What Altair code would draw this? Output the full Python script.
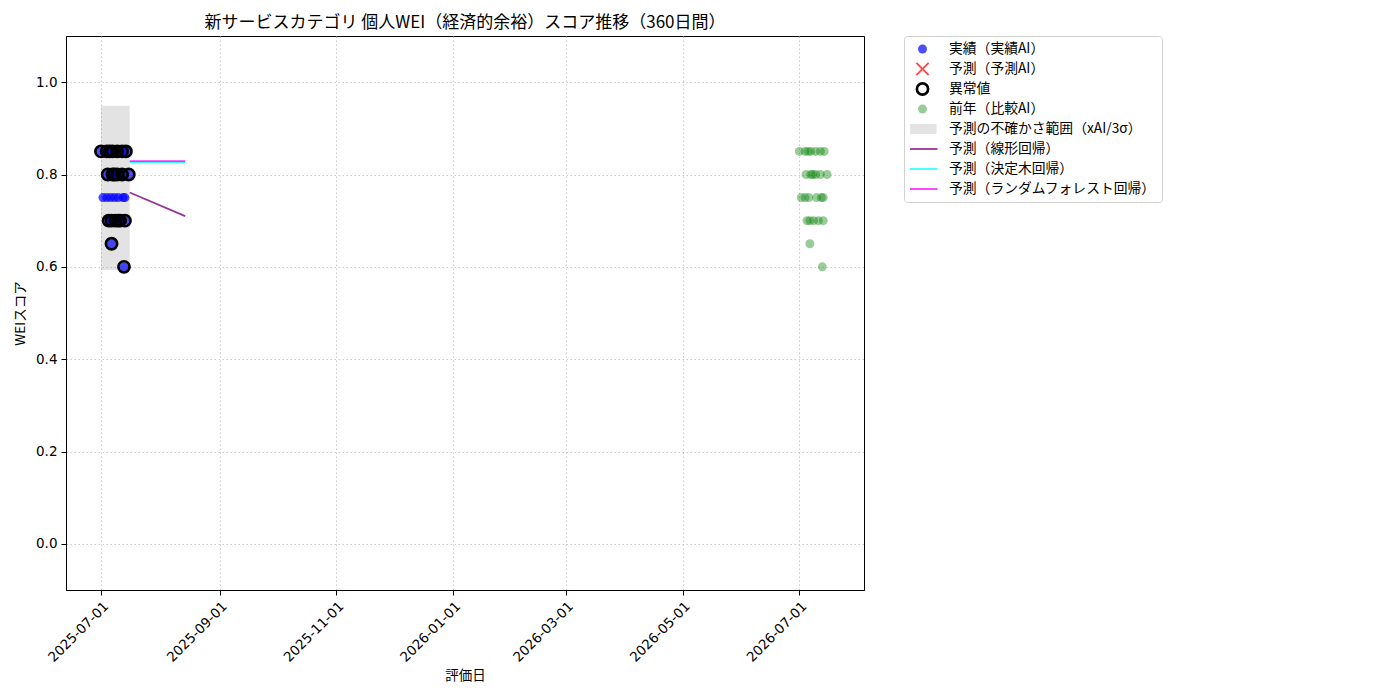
import altair as alt
import pandas as pd

# ---------------- data ----------------
series_labels = [
    "実績（実績AI）",
    "予測（予測AI）",
    "異常値",
    "前年（比較AI）",
    "予測の不確かさ範囲（xAI/3σ）",
    "予測（線形回帰）",
    "予測（決定木回帰）",
    "予測（ランダムフォレスト回帰）",
]

actual_dates = [
    "2025-07-01T00:00:00Z", "2025-07-02T00:00:00Z", "2025-07-04T00:00:00Z", "2025-07-04T00:00:00Z",
    "2025-07-04T12:00:00Z", "2025-07-05T00:00:00Z", "2025-07-05T12:00:00Z", "2025-07-06T00:00:00Z",
    "2025-07-06T12:00:00Z", "2025-07-06T12:00:00Z", "2025-07-07T00:00:00Z", "2025-07-07T00:00:00Z",
    "2025-07-08T00:00:00Z", "2025-07-08T00:00:00Z", "2025-07-08T12:00:00Z", "2025-07-09T12:00:00Z",
    "2025-07-09T12:00:00Z", "2025-07-10T00:00:00Z", "2025-07-10T00:00:00Z", "2025-07-11T00:00:00Z",
    "2025-07-12T00:00:00Z", "2025-07-12T00:00:00Z", "2025-07-12T12:00:00Z", "2025-07-13T00:00:00Z",
    "2025-07-13T12:00:00Z", "2025-07-13T12:00:00Z", "2025-07-14T00:00:00Z", "2025-07-15T12:00:00Z",
]
actual_values = [
    0.85, 0.75, 0.85, 0.75,
    0.80, 0.70, 0.85, 0.75,
    0.70, 0.65, 0.85, 0.80,
    0.80, 0.75, 0.70, 0.85,
    0.80, 0.75, 0.70, 0.70,
    0.85, 0.80, 0.75, 0.60,
    0.75, 0.70, 0.85, 0.80,
]
anomaly_flags = [
    True, False, True, False,
    True, True, True, False,
    True, True, True, True,
    True, False, True, True,
    True, False, True, True,
    True, True, False, True,
    False, True, True, True,
]

prev_dates = [
    "2026-07-01T00:00:00Z", "2026-07-02T00:00:00Z", "2026-07-04T00:00:00Z", "2026-07-04T00:00:00Z",
    "2026-07-04T12:00:00Z", "2026-07-05T00:00:00Z", "2026-07-05T12:00:00Z", "2026-07-06T00:00:00Z",
    "2026-07-06T12:00:00Z", "2026-07-06T12:00:00Z", "2026-07-07T00:00:00Z", "2026-07-07T00:00:00Z",
    "2026-07-08T00:00:00Z", "2026-07-08T12:00:00Z", "2026-07-09T12:00:00Z", "2026-07-09T12:00:00Z",
    "2026-07-10T00:00:00Z", "2026-07-11T00:00:00Z", "2026-07-12T00:00:00Z", "2026-07-12T00:00:00Z",
    "2026-07-12T12:00:00Z", "2026-07-13T00:00:00Z", "2026-07-13T12:00:00Z", "2026-07-13T12:00:00Z",
    "2026-07-14T00:00:00Z", "2026-07-15T12:00:00Z",
]
prev_values = [
    0.85, 0.75, 0.85, 0.75,
    0.80, 0.70, 0.85, 0.75,
    0.70, 0.65, 0.85, 0.80,
    0.80, 0.70, 0.85, 0.80,
    0.75, 0.70, 0.85, 0.80,
    0.75, 0.60, 0.75, 0.70,
    0.85, 0.80,
]

band_start = ["2025-07-01T00:00:00Z"]
band_end = ["2025-07-16T00:00:00Z"]
band_lower = [0.593]
band_upper = [0.949]

forecast_dates = ["2025-07-16T00:00:00Z", "2025-08-14T00:00:00Z"]
linear_values = [0.761, 0.710]
tree_values = [0.827, 0.827]
rf_values = [0.829, 0.829]

title_text = "新サービスカテゴリ 個人WEI（経済的余裕）スコア推移（360日間）"

# ---------------- tables ----------------
df_actual = pd.DataFrame({"date": actual_dates, "value": actual_values,
                          "series": series_labels[0]})
df_anom = pd.DataFrame({"date": actual_dates, "value": actual_values,
                        "flag": anomaly_flags})
df_anom = df_anom[df_anom["flag"]].drop(columns="flag")
df_anom["series"] = series_labels[2]
df_prev = pd.DataFrame({"date": prev_dates, "value": prev_values,
                        "series": series_labels[3]})
df_band = pd.DataFrame({"start": band_start, "end": band_end,
                        "lower": band_lower, "upper": band_upper,
                        "series": series_labels[4]})
df_lines = pd.concat([
    pd.DataFrame({"date": forecast_dates, "value": linear_values, "series": series_labels[5]}),
    pd.DataFrame({"date": forecast_dates, "value": tree_values, "series": series_labels[6]}),
    pd.DataFrame({"date": forecast_dates, "value": rf_values, "series": series_labels[7]}),
])

# ---------------- scales ----------------
fill_range = ["blue", "transparent", "transparent", "green", "gray",
              "transparent", "transparent", "transparent"]
stroke_range = ["transparent", "red", "black", "transparent", "transparent",
                "purple", "cyan", "magenta"]
opacity_range = [0.7, 0.7, 1.0, 0.4, 0.22, 0.8, 0.8, 0.8]
line_path = "M-3,0H3"
shape_range = ["circle", "M-1,-1L1,1M1,-1L-1,1", "circle", "circle",
               "M-2.8,-1H2.8V1H-2.8Z", line_path, line_path, line_path]
size_range = [80, 150, 125, 80, 100, 100, 100, 100]
sw_range = [0, 2, 2.7, 0, 0, 1.8, 1.8, 1.8]

def sc(rng):
    return alt.Scale(type="ordinal", domain=series_labels, range=rng)

fill_enc = alt.Fill("series:N", scale=sc(fill_range), title=None)
stroke_enc = alt.Stroke("series:N", scale=sc(stroke_range), title=None)
opacity_enc = alt.Opacity("series:N", scale=sc(opacity_range), title=None)
shape_enc = alt.Shape("series:N", scale=sc(shape_range), title=None)
size_enc = alt.Size("series:N", scale=sc(size_range), title=None)
sw_enc = alt.StrokeWidth("series:N", scale=sc(sw_range), title=None)

x_scale = alt.Scale(
    type="utc",
    domain=[alt.DateTime(year=2025, month=6, date=12, hours=16, minutes=48, utc=True),
            alt.DateTime(year=2026, month=8, date=3, hours=19, minutes=12, utc=True)],
)
x_axis = alt.Axis(
    title="評価日",
    values=[alt.DateTime(year=y, month=m, date=1, utc=True)
            for y, m in [(2025, 7), (2025, 9), (2025, 11), (2026, 1), (2026, 3), (2026, 5), (2026, 7)]],
    format="%Y-%m-%d",
    labelAngle=-45, labelAlign="right", labelBaseline="top", titlePadding=4,
)
y_scale = alt.Scale(domain=[-0.1, 1.1], nice=False, zero=False)
y_axis = alt.Axis(title="WEIスコア", values=[0.0, 0.2, 0.4, 0.6, 0.8, 1.0], format=".1f")

band = alt.Chart(df_band).mark_rect().encode(
    x=alt.X("start:T", scale=x_scale, axis=x_axis),
    x2="end:T",
    y=alt.Y("lower:Q", scale=y_scale, axis=y_axis),
    y2="upper:Q",
    fill=fill_enc,
    opacity=opacity_enc,
)

def points(df):
    return alt.Chart(df).mark_point(filled=True).encode(
        x=alt.X("date:T", scale=x_scale, axis=x_axis),
        y=alt.Y("value:Q", scale=y_scale, axis=y_axis),
        fill=fill_enc, stroke=stroke_enc, opacity=opacity_enc,
        shape=shape_enc, size=size_enc, strokeWidth=sw_enc,
    )

lines = alt.Chart(df_lines).mark_line().encode(
    x=alt.X("date:T", scale=x_scale, axis=x_axis),
    y=alt.Y("value:Q", scale=y_scale, axis=y_axis),
    stroke=stroke_enc, opacity=opacity_enc, strokeWidth=sw_enc,
    detail="series:N",
)

chart = alt.layer(
    band, points(df_actual), points(df_anom), points(df_prev), lines
).properties(
    width=798, height=554,
    title=alt.TitleParams(title_text, font="Noto Sans CJK JP", fontSize=17,
                          fontWeight="normal", color="black", anchor="middle",
                          frame="group", offset=4),
).configure_view(
    stroke="black", strokeWidth=1
).configure_axis(
    domainColor="black", tickColor="black", tickSize=5, labelPadding=4,
    labelFont="DejaVu Sans", labelFontSize=13.5, labelColor="black",
    titleFont="Noto Sans CJK JP", titleFontSize=13.5, titleFontWeight="normal",
    titleColor="black", titlePadding=8,
    gridColor="#c0c0c0", gridDash=[1.5, 2.5], gridWidth=0.8,
).configure_legend(
    orient="right", offset=40, padding=6, strokeColor="#d0d0d0", cornerRadius=3,
    labelFont="Noto Sans CJK JP", labelFontSize=13.8, labelColor="black",
    labelOffset=19, symbolOffset=5, rowPadding=6, labelLimit=400, clipHeight=14,
)

chart.save("out.html", embed_options={"renderer": "svg", "actions": False})
